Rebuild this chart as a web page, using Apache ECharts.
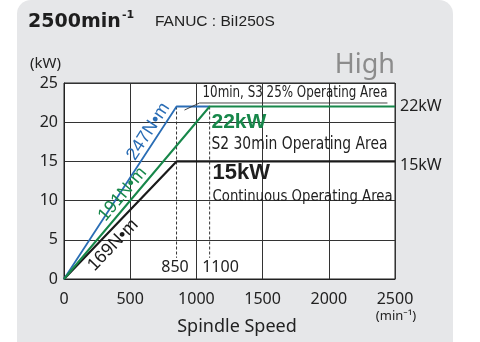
<!DOCTYPE html>
<html>
<head>
<meta charset="utf-8">
<script src="https://cdn.jsdelivr.net/npm/echarts@6/dist/echarts.min.js"></script>
<style>
  html, body { margin: 0; padding: 0; background: #fff; }
  #panel { position: absolute; left: 17px; top: 0; width: 436px; height: 360px;
           background: #e6e7e9; border-radius: 14px 14px 0 0; }
  #chart { position: absolute; left: 0; top: 0; width: 480px; height: 342px; }
</style>
</head>
<body>
<div id="panel"></div>
<div id="chart"></div>
<script>
// Spindle output curves (speed in min^-1, power in kW)
const speedTicks = [0, 500, 1000, 1500, 2000, 2500];
const powerTicks = [0, 5, 10, 15, 20, 25];

const s3Speed = [0, 850, 1100];      // 10min, S3 25%
const s3Power = [0, 22, 22];
const s2Speed = [0, 1100, 2500];     // S2 30min
const s2Power = [0, 22, 22];
const contSpeed = [0, 850, 2500];    // continuous
const contPower = [0, 15, 15];

const baseSpeeds = [850, 1100];
const baseSpeedTops = [22, 22];
const baseSpeedBottom = 2.7;

const torqueLabels = ['247N•m', '191N•m', '169N•m'];
const ratedLabels = ['22kW', '15kW'];
const ratedValues = [22, 15];

const BLUE = '#2a6db5', GREEN = '#17874a', BLACK = '#1a1a1a';
const COND = '"DejaVu Sans Condensed", "Liberation Sans", sans-serif';
const HUMAN = '"Noto Sans", sans-serif';

const pairs = (xs, ys) => xs.map((x, i) => [x, ys[i]]);

const chart = echarts.init(document.getElementById('chart'), null, { renderer: 'canvas' });

const lineSeries = (name, xs, ys, color, width) => ({
  name, type: 'line', data: pairs(xs, ys), symbol: 'none', silent: true,
  lineStyle: { color, width }, z: 5
});

const option = {
  animation: false,
  backgroundColor: 'transparent',
  grid: { left: 64, right: 85, top: 83, bottom: 63, show: true,
          backgroundColor: '#fff', borderColor: '#222', borderWidth: 1 },
  xAxis: {
    type: 'value', min: speedTicks[0], max: speedTicks[speedTicks.length - 1], interval: 500,
    axisLine: { show: true, lineStyle: { color: '#222', width: 1 } },
    axisTick: { show: false },
    splitLine: { show: true, lineStyle: { color: '#333', width: 1 } },
    axisLabel: { color: '#222', fontFamily: HUMAN, fontSize: 16, margin: 12,
                 formatter: v => String(v) }
  },
  yAxis: {
    type: 'value', min: powerTicks[0], max: powerTicks[powerTicks.length - 1], interval: 5,
    axisLine: { show: true, lineStyle: { color: '#222', width: 1 } },
    axisTick: { show: false },
    splitLine: { show: true, lineStyle: { color: '#333', width: 1 } },
    axisLabel: { color: '#222', fontFamily: HUMAN, fontSize: 16, margin: 6 }
  },
  series: [
    ...baseSpeeds.map((s, i) => ({
      type: 'line', symbol: 'none', silent: true, z: 3,
      data: [[s, baseSpeedTops[i]], [s, baseSpeedBottom]],
      lineStyle: { color: '#333', width: 1, type: [3, 2] }
    })),
    lineSeries('cont', contSpeed, contPower, BLACK, 2.2),
    lineSeries('s3', s3Speed, s3Power, BLUE, 1.8),
    lineSeries('s2', s2Speed, s2Power, GREEN, 2)
  ]
};
chart.setOption(option);

const px = (x, y) => chart.convertToPixel({ gridIndex: 0 }, [x, y]);

// width of a string in a given css font, for squeezing condensed notes
const measureCtx = document.createElement('canvas').getContext('2d');
const textWidth = (text, font) => { measureCtx.font = font; return measureCtx.measureText(text).width; };

const txt = (p, text, style, extra) => Object.assign({
  type: 'text', x: p[0], y: p[1], z: 20, silent: true,
  style: Object.assign({ text, fill: '#222', align: 'left', verticalAlign: 'middle' }, style)
}, extra || {});

// note text squeezed horizontally to a given width
const fitTxt = (p, text, font, width, style) => {
  const w = textWidth(text, font);
  return txt(p, text, Object.assign({ font }, style || {}), { scaleX: Math.min(1, width / w) });
};

// label riding on the rising part of a curve, above (side 1) or below (side -1)
const rideLabel = (text, xs, ys, speed, side, gap, color) => {
  const a = px(xs[0], ys[0]), b = px(xs[1], ys[1]);
  const ang = Math.atan2(a[1] - b[1], b[0] - a[0]);
  const p = px(speed, ys[1] * speed / xs[1]);
  const n = [-Math.sin(ang), -Math.cos(ang)];          // normal pointing up-left
  const q = [p[0] + n[0] * gap * side, p[1] + n[1] * gap * side];
  return txt(q, text, {
    font: '18px "Liberation Sans", sans-serif', fill: color, align: 'center',
    verticalAlign: side > 0 ? 'bottom' : 'top'
  }, { rotation: ang });
};

// leader from the S3 corner to the underlined note
const leaderPts = [[910, 21.55], [1023, 22.45], [2443, 22.45]].map(p => px(p[0], p[1]));

const rightEdge = px(2500, 0)[0];

chart.setOption({
  graphic: [
    // titles
    txt([28, 22], '2500min', { font: 'bold 19px "DejaVu Sans", sans-serif', fill: '#1e1e1e' }),
    txt([122, 15], '-1', { font: 'bold 11px "DejaVu Sans", sans-serif', fill: '#1e1e1e' }),
    txt([155, 22], 'FANUC : BiI250S', { font: '15.5px "Liberation Sans", sans-serif', fill: '#222' }),
    txt([30, 64], '(kW)', { font: '15px ' + HUMAN }),
    txt([395, 65], 'High', { font: '27px ' + HUMAN, fill: '#8c8c8c', align: 'right' }),
    txt([237, 327], 'Spindle Speed', { font: '18px ' + HUMAN, align: 'center' }),
    txt([396, 316], '(min⁻¹)', { font: '13px ' + HUMAN, align: 'center' }),
    // rated power at the right edge
    ...ratedLabels.map((t, i) => txt([rightEdge + 5, px(0, ratedValues[i])[1] + (i ? 4 : 0)], t,
      { font: '16px ' + HUMAN })),
    // leader and underline
    { type: 'polyline', z: 15, silent: true, shape: { points: leaderPts },
      style: { stroke: '#333', lineWidth: 0.9, fill: null } },
    // area notes
    fitTxt(px(1046, 23.7), '10min, S3 25% Operating Area', '16px ' + COND, 185),
    txt(px(1114, 20.06), '22kW', { font: 'bold 21px "Liberation Sans", sans-serif', fill: GREEN }),
    fitTxt(px(1114, 17.13), 'S2 30min Operating Area', '17px ' + COND, 176),
    txt(px(1122, 13.56), '15kW', { font: 'bold 22px "Liberation Sans", sans-serif', fill: '#1e1e1e' }),
    fitTxt(px(1122, 10.5), 'Continuous Operating Area', '16px ' + COND, 180),
    // base speed labels
    ...baseSpeeds.map((s, i) => txt(px(s + (i ? 82 : -12), 1.44), String(s),
      { font: '16px ' + HUMAN, align: 'center' })),
    // torque labels along the rising lines
    rideLabel(torqueLabels[0], s3Speed, s3Power, 700, 1, 1, BLUE),
    rideLabel(torqueLabels[1], s2Speed, s2Power, 500, 1, 1, GREEN),
    rideLabel(torqueLabels[2], contSpeed, contPower, 305, -1, 3, BLACK)
  ]
});
</script>
</body>
</html>
